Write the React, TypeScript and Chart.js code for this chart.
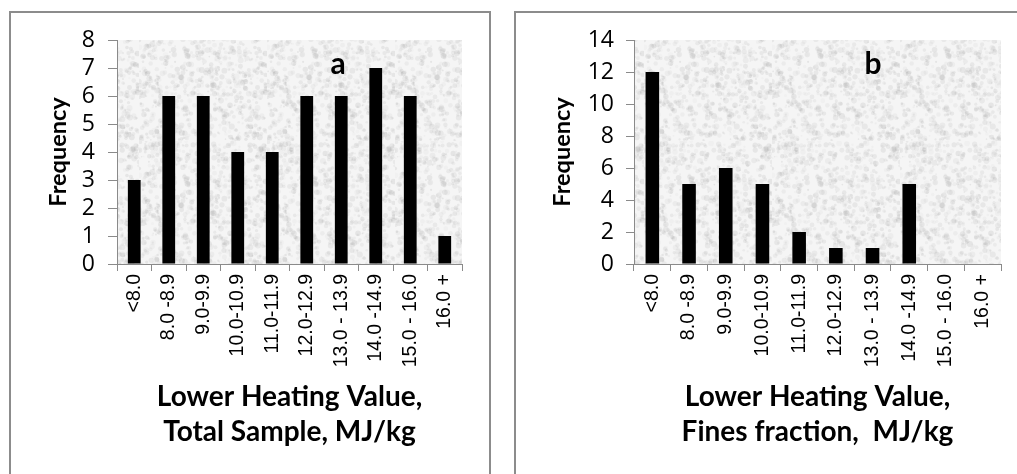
import React, { useEffect, useRef } from 'react';
import { Chart, registerables } from 'chart.js';

Chart.register(...registerables);

// ---- Data ----
const categories = [
  '<8.0',
  '8.0 -8.9',
  '9.0-9.9',
  '10.0-10.9',
  '11.0-11.9',
  '12.0-12.9',
  '13.0 - 13.9',
  '14.0 -14.9',
  '15.0 - 16.0',
  '16.0 +',
];
const totalSampleFrequency = [3, 6, 6, 4, 4, 6, 6, 7, 6, 1];
const finesFractionFrequency = [12, 5, 6, 5, 2, 1, 1, 5, 0, 0];
const totalSampleYTicks = [0, 1, 2, 3, 4, 5, 6, 7, 8];
const finesFractionYTicks = [0, 2, 4, 6, 8, 10, 12, 14];
const totalSampleTitle = ['Lower Heating Value,', 'Total Sample, MJ/kg'];
const finesFractionTitle = ['Lower Heating Value,', 'Fines fraction,  MJ/kg'];
const yAxisTitle = 'Frequency';

type PanelProps = {
  values: number[];
  yTicks: number[];
  xTitle: string[];
  letter: string;
  width: number;
  height: number;
  areaLeft: number;
  areaRight: number;
  areaTop: number;
  areaBottom: number;
  yTitleCenter: number;
  yTickPad: number;
  yTickLen: number;
  letterX: number;
  letterY: number;
};

function makePattern(ctx: CanvasRenderingContext2D) {
  const size = 128;
  const c = document.createElement('canvas');
  c.width = size;
  c.height = size;
  const g = c.getContext('2d')!;
  g.fillStyle = '#f5f5f5';
  g.fillRect(0, 0, size, size);
  let s = 987654321;
  const nxt = () => {
    s = (Math.imul(s, 1664525) + 1013904223) >>> 0;
    return s / 4294967296;
  };
  for (let i = 0; i < 900; i++) {
    const x = nxt() * size;
    const y = nxt() * size;
    const r = 0.8 + nxt() * 2.2;
    const a = 0.03 + nxt() * 0.1;
    g.fillStyle = `rgba(120,120,120,${a.toFixed(3)})`;
    g.beginPath();
    g.arc(x, y, r, 0, Math.PI * 2);
    g.fill();
  }
  return ctx.createPattern(c, 'repeat');
}

function Panel(p: PanelProps) {
  const ref = useRef<HTMLCanvasElement | null>(null);
  useEffect(() => {
    const canvas = ref.current!;
    const ctx = canvas.getContext('2d')!;
    const pattern = makePattern(ctx);
    const yTitleFont = { family: 'Lato', size: 23.5, weight: 'bold' as const, lineHeight: 1.2 };
    const xTitleFont = { family: 'Lato', size: 28, weight: 'bold' as const, lineHeight: 1.25 };

    const bgPlugin = {
      id: 'bgTexture',
      beforeDraw(chart: any) {
        const { ctx: c, chartArea: a } = chart;
        c.save();
        c.fillStyle = pattern || '#ececec';
        c.fillRect(a.left, a.top, a.right - a.left, a.bottom - a.top);
        c.restore();
      },
    };
    const letterPlugin = {
      id: 'panelLetter',
      afterDatasetsDraw(chart: any) {
        const { ctx: c } = chart;
        c.save();
        c.font = 'bold 30px Lato';
        c.fillStyle = '#000';
        c.textAlign = 'center';
        c.textBaseline = 'middle';
        c.fillText(p.letter, p.letterX, p.letterY);
        c.restore();
      },
    };

    const chart = new Chart(canvas, {
      type: 'bar',
      data: {
        labels: categories,
        datasets: [
          {
            data: p.values,
            backgroundColor: '#000000',
            borderWidth: 0,
            barPercentage: 0.37,
            categoryPercentage: 1,
          },
        ],
      },
      options: {
        responsive: false,
        animation: false,
        devicePixelRatio: 1,
        events: [],
        layout: {
          padding: {
            top: p.areaTop,
            right: p.width - p.areaRight,
            bottom: 0,
            left: 0,
          },
        },
        plugins: {
          legend: { display: false },
          tooltip: { enabled: false },
          title: { display: false },
        },
        scales: {
          x: {
            grid: {
              display: true,
              offset: true,
              drawOnChartArea: false,
              drawTicks: true,
              tickLength: 7,
              color: '#8a8a8a',
            },
            border: { display: true, color: '#8a8a8a', width: 1 },
            ticks: {
              minRotation: 90,
              maxRotation: 90,
              autoSkip: false,
              padding: 3,
              color: '#000',
              font: { family: 'Liberation Sans', size: 19.5 },
            },
            title: {
              display: true,
              text: p.xTitle,
              color: '#000',
              font: xTitleFont,
              padding: { top: 0, bottom: 25 },
            },
            afterFit(scale: any) {
              scale.height = p.height - p.areaBottom;
            },
          },
          y: {
            min: p.yTicks[0],
            max: p.yTicks[p.yTicks.length - 1],
            grid: {
              display: true,
              drawOnChartArea: false,
              drawTicks: true,
              tickLength: p.yTickLen,
              color: '#8a8a8a',
            },
            border: { display: true, color: '#8a8a8a', width: 1 },
            ticks: {
              stepSize: p.yTicks[1] - p.yTicks[0],
              autoSkip: false,
              padding: p.yTickPad,
              color: '#000',
              font: { family: 'Open Sans', size: 23 },
            },
            title: {
              display: true,
              text: yAxisTitle,
              color: '#000',
              font: yTitleFont,
              padding: { top: p.yTitleCenter - 14.1, bottom: 0 },
            },
            afterFit(scale: any) {
              scale.width = p.areaLeft;
            },
          },
        },
      },
      plugins: [bgPlugin, letterPlugin],
    });
    return () => chart.destroy();
  }, []);
  return (
    <canvas
      ref={ref}
      width={p.width}
      height={p.height}
      style={{ width: p.width, height: p.height, display: 'block' }}
    />
  );
}

export default function App() {
  return (
    <div
      style={{
        position: 'fixed',
        left: 0,
        top: 0,
        width: 1017,
        height: 474,
        overflow: 'hidden',
        background: '#ffffff',
      }}
    >
      <div
        style={{
          position: 'absolute',
          left: 9,
          top: 11,
          width: 482,
          height: 480,
          border: '2px solid #8c8c8c',
          boxSizing: 'border-box',
        }}
      />
      <div
        style={{
          position: 'absolute',
          left: 514,
          top: 11,
          width: 520,
          height: 480,
          border: '2px solid #8c8c8c',
          boxSizing: 'border-box',
        }}
      />
      <div style={{ position: 'absolute', left: 11, top: 13 }}>
        <Panel
          values={totalSampleFrequency}
          yTicks={totalSampleYTicks}
          xTitle={totalSampleTitle}
          letter="a"
          width={476}
          height={461}
          areaLeft={106}
          areaRight={451}
          areaTop={27}
          areaBottom={251}
          yTitleCenter={47}
          yTickPad={13}
          yTickLen={9}
          letterX={327}
          letterY={51}
        />
      </div>
      <div style={{ position: 'absolute', left: 516, top: 13 }}>
        <Panel
          values={finesFractionFrequency}
          yTicks={finesFractionYTicks}
          xTitle={finesFractionTitle}
          letter="b"
          width={501}
          height={461}
          areaLeft={118}
          areaRight={485}
          areaTop={27}
          areaBottom={251}
          yTitleCenter={46}
          yTickPad={12}
          yTickLen={8}
          letterX={357}
          letterY={51}
        />
      </div>
    </div>
  );
}
